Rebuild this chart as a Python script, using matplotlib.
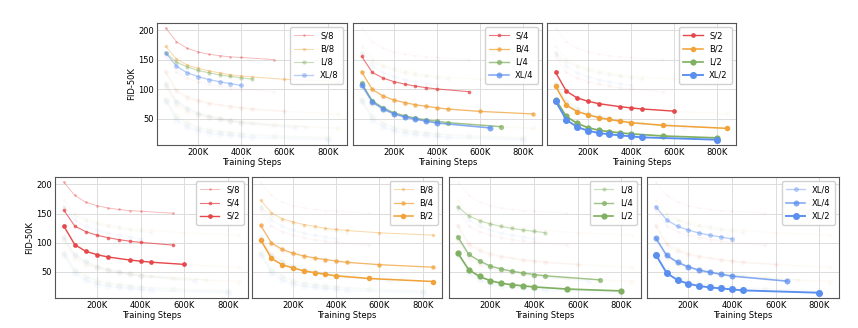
import matplotlib
matplotlib.use("Agg")
import matplotlib.pyplot as plt
from matplotlib.ticker import FuncFormatter

# FID-50K vs training steps (in thousands) for each model / patch size
models = ["S", "B", "L", "XL"]
patches = [8, 4, 2]

steps = {
    "S/8": [50, 100, 150, 200, 250, 300, 350, 400, 550],
    "S/4": [50, 100, 150, 200, 250, 300, 350, 400, 550],
    "S/2": [50, 100, 150, 200, 250, 350, 400, 450, 600],
    "B/8": [50, 100, 150, 200, 250, 300, 350, 400, 450, 600, 850],
    "B/4": [50, 100, 150, 200, 250, 300, 350, 400, 450, 600, 850],
    "B/2": [50, 100, 150, 200, 250, 300, 350, 400, 550, 850],
    "L/8": [50, 100, 150, 200, 250, 300, 350, 400, 450],
    "L/4": [50, 100, 150, 200, 250, 300, 350, 400, 450, 700],
    "L/2": [50, 100, 150, 200, 250, 300, 350, 400, 550, 800],
    "XL/8": [50, 100, 150, 200, 250, 300, 350, 400],
    "XL/4": [50, 100, 150, 200, 250, 300, 350, 400, 650],
    "XL/2": [50, 100, 150, 200, 250, 300, 350, 400, 450, 800],
}

fid = {
    "S/8": [204, 181, 169.5, 163.5, 159.5, 157, 155, 154, 150.5],
    "S/4": [156, 128.6, 119, 113, 108.8, 105.4, 102.8, 100.6, 96],
    "S/2": [128.7, 96.8, 85.4, 79.8, 75.7, 70.5, 68.5, 66.7, 63],
    "B/8": [172.7, 151.4, 141, 135.5, 131.2, 128, 124.5, 122.7, 121, 117, 113],
    "B/4": [130, 99.7, 88.6, 82, 77.5, 73.9, 71.3, 68.7, 66.5, 62.5, 58.2],
    "B/2": [105, 73.3, 62.3, 56.9, 52, 48.8, 46, 43.4, 38.9, 33.7],
    "L/8": [162, 146, 138, 132, 128, 124.5, 121.8, 119.5, 117.3],
    "L/4": [110.5, 80.4, 68.7, 60, 55.3, 51.1, 48.3, 45.7, 43.5, 36.6],
    "L/2": [82.7, 54, 42.3, 35, 30.7, 28.1, 26.2, 24.4, 20.8, 17.6],
    "XL/8": [162, 139, 128.2, 121.6, 116.5, 112.8, 109.7, 106.5],
    "XL/4": [108, 78.4, 66.5, 58.5, 53.1, 49.4, 46, 42.9, 34.4],
    "XL/2": [79.8, 48.3, 36.1, 29.8, 25.9, 23.6, 21.9, 20.2, 18.5, 14.5],
}

colors = {"S": "#e5474b", "B": "#f1a238", "L": "#80b062", "XL": "#5a8eef"}
patch_alpha = {8: 0.42, 4: 0.75, 2: 1.0}
model_size = {"S": 0, "B": 1, "L": 2, "XL": 3}
patch_size = {8: 0, 4: 1, 2: 2}

plt.rcParams["font.family"] = "DejaVu Sans"
plt.rcParams["font.size"] = 6


def style_for(model, patch):
    ms = 1.9 + 0.55 * model_size[model] + 0.75 * patch_size[patch]
    lw = 0.6 + 0.12 * model_size[model] + 0.2 * patch_size[patch]
    return dict(color=colors[model], alpha=patch_alpha[patch], marker="o",
                markersize=ms, linewidth=lw, markeredgewidth=0)


def draw_panel(ax, names, show_ylabel):
    # faint copies of every other run in the background
    for model in models:
        for patch in patches:
            name = f"{model}/{patch}"
            if name in names:
                continue
            st = style_for(model, patch)
            st["alpha"] = 0.045
            ax.plot(steps[name], fid[name], **st)
    for name in names:
        model, patch = name.split("/")
        ax.plot(steps[name], fid[name], label=name, **style_for(model, int(patch)))

    ax.set_xticks([200, 400, 600, 800])
    ax.set_yticks([50, 100, 150, 200])
    ax.xaxis.set_major_formatter(FuncFormatter(lambda v, p: f"{int(v)}K"))
    ax.grid(True, color="#dcdcdc", linewidth=0.7)
    ax.set_axisbelow(True)
    ax.tick_params(length=0, pad=2, labelsize=6)
    for sp in ax.spines.values():
        sp.set_color("#555555")
        sp.set_linewidth(0.8)
    ax.set_xlabel("Training Steps", fontsize=6, labelpad=1)
    if show_ylabel:
        ax.set_ylabel("FID-50K", fontsize=6, labelpad=2)
    else:
        ax.tick_params(labelleft=False)
    ax.set_xlim(10, 890)
    ax.set_ylim(5.5, 212.5)
    ax.legend(loc="upper right", fontsize=6, handlelength=2.3,
              labelspacing=0.5, borderpad=0.5, framealpha=0.9,
              edgecolor="#cccccc", fancybox=True)


W, H = 858, 328
fig = plt.figure(figsize=(W / 100, H / 100), dpi=100)


def add_axes(x0, x1, y0, y1):
    return fig.add_axes([x0 / W, 1 - y1 / H, (x1 - x0) / W, (y1 - y0) / H])


# top row: grouped by patch size
top_boxes = [(157, 347), (353, 542), (547, 736)]
for i, patch in enumerate(patches):
    ax = add_axes(top_boxes[i][0], top_boxes[i][1], 23, 145)
    draw_panel(ax, [f"{m}/{patch}" for m in models], i == 0)

# bottom row: grouped by model size
bottom_boxes = [(55, 248), (252, 442), (449, 641), (647, 839)]
for i, model in enumerate(models):
    ax = add_axes(bottom_boxes[i][0], bottom_boxes[i][1], 177, 298)
    draw_panel(ax, [f"{model}/{p}" for p in patches], i == 0)

fig.savefig("out.png", dpi=100)
